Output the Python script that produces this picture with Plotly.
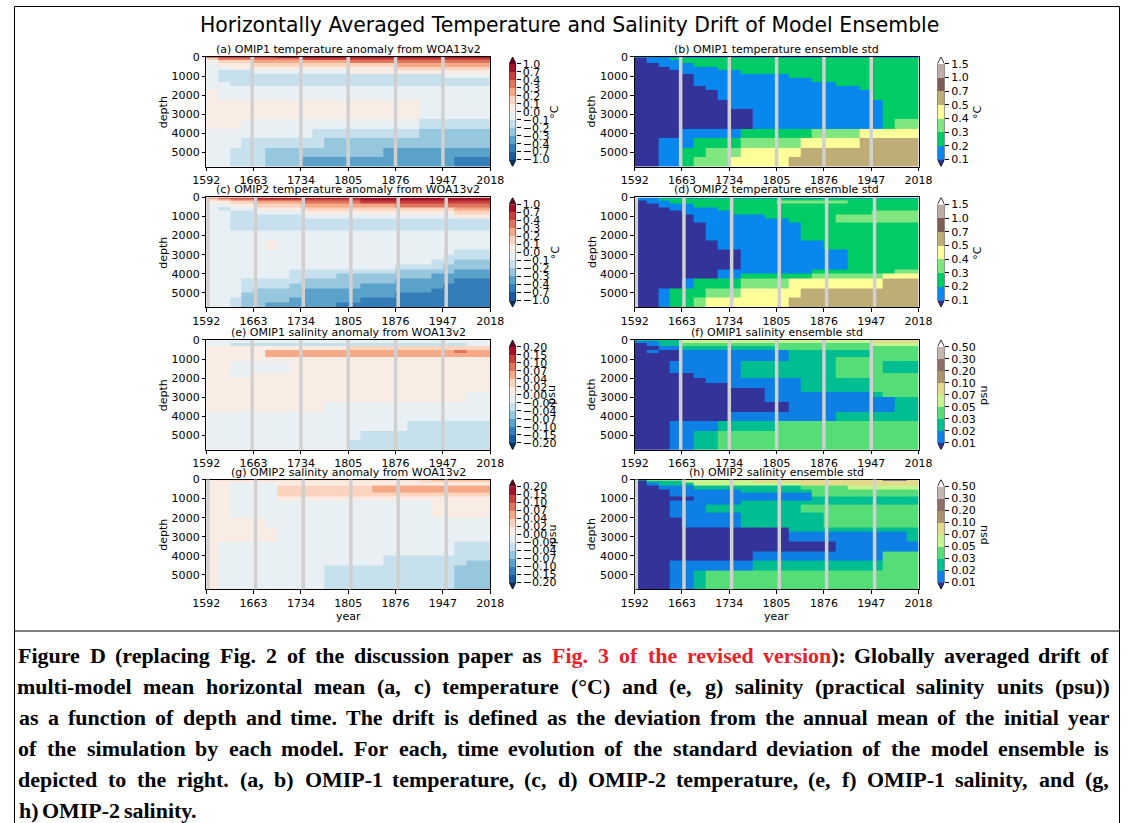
import plotly.graph_objects as go

W, H = 1134, 823
# the photographed page comes out slightly shrunk; map reference pixels onto figure pixels
SX, AX = 0.979, 13.0
SY, AY = 0.996, 4.9

# ---------------- data grids (depth rows x time columns) ----------------
YEAR_EDGES = [1592, 1609.75, 1627.5, 1645.25, 1663, 1680.75, 1698.5, 1716.25, 1734,
              1751.75, 1769.5, 1787.25, 1805, 1822.75, 1840.5, 1858.25, 1876,
              1893.75, 1911.5, 1929.25, 1947, 1964.75, 1982.5, 2000.25, 2018]
DEPTH_EDGES = [0, 50, 150, 300, 500, 700, 900, 1100, 1300, 1500, 1750, 2000, 2250,
               2500, 2750, 3000, 3250, 3500, 3750, 4000, 4250, 4500, 4750, 5000,
               5250, 5500, 5750]
X_TICKS = [1592, 1663, 1734, 1805, 1876, 1947, 2018]
Y_TICKS = [0, 1000, 2000, 3000, 4000, 5000]
OMIP1_CYCLE_YEARS = [1661, 1734, 1805, 1876, 1947]
OMIP2_CYCLE_YEARS = [1594.5, 1666, 1737.5, 1809, 1880, 1952]

TEMP_ANOM_LEVELS = [-1.0, -0.7, -0.4, -0.3, -0.2, -0.1, 0.0, 0.1, 0.2, 0.3, 0.4, 0.7, 1.0]
TEMP_STD_LEVELS = [0.1, 0.2, 0.3, 0.4, 0.5, 0.7, 1.0, 1.5]
SAL_ANOM_LEVELS = [-0.20, -0.15, -0.10, -0.07, -0.04, -0.02, 0.00, 0.02, 0.04, 0.07, 0.10, 0.15, 0.20]
SAL_STD_LEVELS = [0.01, 0.02, 0.03, 0.05, 0.07, 0.10, 0.20, 0.30, 0.50]

# class index per cell (hex digit): 0 = below lowest level, 1.. = level intervals
A_OMIP1_TEMP_ANOM = [
    "abbb bbcc cccc cccc cccc cccc",
    "8aaa aaaa bbbb bbbb bbbb bbbb",
    "7888 9999 9999 aaaa aaaa aaaa",
    "6777 8888 8888 8888 9999 9999",
    "6677 7777 7777 7777 8888 8888",
    "6555 6666 6666 7777 7777 7777",
    "6555 5555 5555 5555 5555 6666",
    "6555 5555 5555 5555 5555 5555",
    "6655 5555 5555 5555 5555 5555",
    "6666 6666 6666 6666 6666 6666",
    "7666 6666 6666 6666 6666 6666",
    "7666 6666 6666 6666 6666 6666",
    "7777 7777 7777 7777 7766 6666",
    "7777 7777 7777 7777 7766 6666",
    "7777 7777 7777 7777 7766 6666",
    "7777 7777 7777 7777 7766 6666",
    "7776 6666 6666 6666 6655 5555",
    "7776 6666 6666 6666 6655 5555",
    "6666 6666 6555 5555 5544 4444",
    "6666 6666 6555 5555 5544 4444",
    "6665 5555 5544 4444 4444 4444",
    "6665 5555 5544 4444 4444 4444",
    "6655 5444 4444 4443 3333 3333",
    "6655 5444 4444 4443 3333 3333",
    "6655 5444 3333 3333 3333 3222",
    "6655 5444 3333 3333 3333 3222",
]
B_OMIP1_TEMP_STD = [
    "1111 1111 1111 1111 1111 1111",
    "0112 2222 2222 2222 2222 2222",
    "0111 2222 2222 2222 2222 2222",
    "0011 1222 2222 2222 2222 2222",
    "0001 1112 2222 2222 2222 2222",
    "0000 1111 1222 2222 2222 2222",
    "0000 0111 1111 1222 2222 2222",
    "0000 0111 1111 1112 2222 2222",
    "0000 0111 1111 1111 1222 2222",
    "0000 0011 1111 1111 1112 2222",
    "0000 0001 1111 1111 1111 2222",
    "0000 0001 1111 1111 1111 2222",
    "0000 0000 1111 1111 1111 1222",
    "0000 0000 1111 1111 1111 1222",
    "0000 0000 0011 1111 1111 1222",
    "0000 0000 0011 1111 1111 1222",
    "0000 0000 0011 1111 1111 1233",
    "0000 0000 0011 1111 1111 1233",
    "0000 1111 1222 2223 3334 4444",
    "0000 1111 1222 2223 3334 4444",
    "0011 1222 2333 3344 4445 5555",
    "0011 1222 2333 3344 4445 5555",
    "0011 2233 3444 4455 5555 5555",
    "0011 2233 3444 4455 5555 5555",
    "0011 2333 4444 4555 5555 5555",
    "0011 2333 4444 4555 5555 5555",
]
C_OMIP2_TEMP_ANOM = [
    "abbb cccc cccc cccc cccc cccc",
    "89aa bbbb bbbb bccc cccc cccc",
    "7788 9999 aaaa abbb bbbb bbbb",
    "6677 8888 9999 9999 aaaa aaaa",
    "6566 7777 8888 8888 8888 8999",
    "6655 6666 7777 7777 7777 7888",
    "6655 5555 6666 6666 6666 6777",
    "6655 5555 5555 5555 5555 5555",
    "6655 5555 5555 5555 5555 5555",
    "6655 5555 5555 5555 5555 5555",
    "6666 6666 6666 6666 6666 6666",
    "6666 6666 6666 6666 6666 6666",
    "6666 6766 6666 6666 6666 6666",
    "6666 6766 6666 6666 6666 6666",
    "6666 6666 6666 6666 6666 6555",
    "6666 6666 6666 6666 6666 5555",
    "6666 6666 6666 6666 6665 5444",
    "6666 6666 6666 6666 5555 4444",
    "6666 6665 5555 5555 4444 4333",
    "6666 6665 5554 4444 4443 3333",
    "6665 5555 4444 4444 3333 3222",
    "6665 5554 4444 4333 3333 2222",
    "6665 4444 3333 3333 3332 2222",
    "6664 4444 3333 3333 2222 2222",
    "6654 4443 3333 3222 2222 2222",
    "6654 4333 3332 2222 2222 2222",
]
D_OMIP2_TEMP_STD = [
    "1111 1111 1111 1111 1111 1111",
    "1122 2222 2222 2222 2222 2222",
    "0112 2222 2222 3333 3322 2222",
    "0011 1222 2222 2222 2222 2222",
    "0001 1112 2222 2222 2222 2222",
    "0000 1111 2222 2222 2222 3333",
    "0000 0111 1112 2222 2333 3333",
    "0000 0111 1111 1222 2333 3333",
    "0000 0011 1111 1122 2222 2222",
    "0000 0011 1111 1122 2222 2222",
    "0000 0011 1111 1122 2222 2222",
    "0000 0011 1111 1122 2222 2222",
    "0000 0001 1111 1111 2222 2222",
    "0000 0001 1111 1111 2222 2222",
    "0000 0000 0111 1111 1122 2222",
    "0000 0000 0111 1111 1122 2222",
    "0000 0000 0111 1111 1122 2222",
    "0000 0000 0111 1111 1122 2222",
    "0000 0001 1111 1112 2222 2233",
    "0000 0001 1222 2223 3333 3444",
    "0000 1222 2333 3444 4444 4555",
    "0000 1222 2333 3444 4444 4555",
    "0012 2233 3444 4455 5555 5555",
    "0012 2233 3444 4455 5555 5555",
    "0012 2344 4444 4555 5555 5555",
    "0012 2344 4444 4555 5555 5555",
]
E_OMIP1_SAL_ANOM = [
    "6666 6666 6666 6666 6666 6666",
    "6666 6666 6666 6666 6666 6666",
    "6655 5555 5555 5555 5555 5566",
    "7777 7777 7777 8888 8888 8888",
    "7777 7999 9999 9999 9999 9a99",
    "7777 7999 9999 9999 9999 9999",
    "7777 7777 7777 7777 7777 7777",
    "7766 6667 7777 7777 7777 7777",
    "7766 6667 7777 7777 7777 7777",
    "7766 6667 7777 7777 7777 7777",
    "7766 7777 7777 7777 7777 7777",
    "7777 7777 7777 7777 7777 7777",
    "7777 7777 7777 7777 7777 7777",
    "7777 7777 7777 7777 7777 7777",
    "7777 7777 7777 7777 7777 7766",
    "7777 7777 7777 7777 7777 7766",
    "7777 7777 7766 6666 6666 6666",
    "7777 7777 7766 6666 6666 6666",
    "6666 6666 6666 6666 6666 6666",
    "6666 6666 6666 6666 6666 6666",
    "6666 6666 6666 6666 6555 5555",
    "6666 6666 6666 6666 6555 5555",
    "6666 6666 6666 6555 5555 5555",
    "6666 6666 6666 6555 5555 5555",
    "6666 6666 6666 5555 5555 5555",
    "6666 6666 6666 5555 5555 5555",
]
F_OMIP1_SAL_STD = [
    "2222 4444 4444 4444 4444 5555",
    "1122 4444 4444 4444 4444 5555",
    "0122 3333 3333 3333 3333 4444",
    "0011 2222 2222 3333 3333 3333",
    "0100 1111 1111 1222 2222 3333",
    "0000 1111 1111 1222 2222 3333",
    "0000 1111 1111 1222 2333 3333",
    "0001 1111 1222 2222 2333 3222",
    "0001 1111 1222 2222 2333 3222",
    "0001 1111 1222 2222 2333 3222",
    "0000 0111 1222 2222 2333 3333",
    "0000 0011 1111 1122 2222 3333",
    "0000 0000 1111 1122 2222 3333",
    "0000 0000 0001 1122 2222 3333",
    "0000 0000 0001 1111 1111 2333",
    "0000 0000 0001 1111 1111 1122",
    "0000 0000 0000 0111 1111 1122",
    "0000 0000 0000 0111 1111 1122",
    "0000 0000 1111 1111 1222 2222",
    "0000 0000 1111 1111 1222 2222",
    "0001 1112 2222 3333 3333 3333",
    "0001 1112 2222 3333 3333 3333",
    "0001 1223 3333 3333 3333 3333",
    "0001 1223 3333 3333 3333 3333",
    "0001 1223 3333 3333 3333 3333",
    "0001 1223 3333 3333 3333 3333",
]
G_OMIP2_SAL_ANOM = [
    "7888 8888 8888 8888 8889 9999",
    "7777 7777 7777 7777 7788 8888",
    "7766 6677 7777 7777 7777 7777",
    "7766 6688 8888 8899 9999 9999",
    "7766 6688 8888 8899 9999 9999",
    "7766 6688 8888 8888 8888 8888",
    "7766 6677 7777 7777 7777 7777",
    "7766 6666 6666 6666 6667 7777",
    "7766 6666 6666 6666 6667 7777",
    "7766 6666 6666 6666 6667 7777",
    "7766 6666 6666 6666 6667 7777",
    "7777 7666 6666 6666 6666 6666",
    "7777 7666 6666 6666 6666 6666",
    "7777 7766 6666 6666 6666 6666",
    "7777 7766 6666 6666 6666 6666",
    "7777 7766 6666 6666 6666 6666",
    "7666 6666 6666 6666 6666 6555",
    "7666 6666 6666 6666 6666 6555",
    "7666 6666 6666 6666 6666 6555",
    "7666 6666 6666 6665 5555 5555",
    "7666 6666 6666 6665 5555 5544",
    "7666 6666 6655 5555 5555 5444",
    "7666 6666 6655 5555 5555 5444",
    "7666 6666 6655 5555 5555 5444",
    "7666 6666 6655 5555 5555 5444",
    "7666 6666 6655 5555 5555 5444",
]
H_OMIP2_SAL_STD = [
    "2444 4444 5555 5555 5555 5005",
    "0222 4444 4455 5555 5555 5555",
    "0122 2444 4444 4455 5555 5555",
    "0011 1222 2222 2233 3344 4444",
    "0001 1111 1222 2223 3333 3333",
    "0001 1111 1111 1113 3333 3333",
    "0000 0111 1111 1112 2222 2222",
    "0001 1111 1222 2222 2222 2222",
    "0001 1122 2222 2233 3333 3333",
    "0001 1122 2222 2233 3333 3333",
    "0001 1111 1222 2222 3333 3333",
    "0000 1111 1222 2222 3333 3333",
    "0000 1111 1222 2222 3333 3333",
    "0000 0000 0000 0222 2222 2222",
    "0000 0000 0000 0111 1111 1112",
    "0000 0000 0000 0111 1111 1112",
    "0000 0000 0000 0000 0111 1111",
    "0000 0000 0000 0000 0111 1111",
    "0000 0000 0011 1111 1111 1333",
    "0000 0000 0011 1111 1111 1333",
    "0001 1111 1122 2222 2222 2333",
    "0001 1111 1122 2222 2222 2333",
    "0001 1233 3333 3333 3333 3333",
    "0001 1233 3333 3333 3333 3333",
    "0001 1233 3333 3333 3333 3333",
    "0001 1233 3333 3333 3333 3333",
]

CAPTION_LINES = [
    "Figure D (replacing Fig. 2 of the discussion paper as Fig. 3 of the revised version): Globally averaged drift of",
    "multi-model mean horizontal mean (a, c) temperature (°C) and (e, g) salinity (practical salinity units (psu))",
    "as a function of depth and time. The drift is defined as the deviation from the annual mean of the initial year",
    "of the simulation by each model. For each, time evolution of the standard deviation of the model ensemble is",
    "depicted to the right. (a, b) OMIP-1 temperature, (c, d) OMIP-2 temperature, (e, f) OMIP-1 salinity, and (g,",
    "h) OMIP-2 salinity.",
]

# ---------------- colour maps (matplotlib RdBu_r / terrain) ----------------
RDBU_R = ['#053061', '#2166ac', '#4393c3', '#92c5de', '#d1e5f0', '#f7f7f7',
          '#fddbc7', '#f4a582', '#d6604d', '#b2182b', '#67001f']
RDBU_ANCH = [(i / 10, tuple(int(c[k:k + 2], 16) / 255 for k in (1, 3, 5))) for i, c in enumerate(RDBU_R)]
TERRAIN_ANCH = [(0.0, (0.2, 0.2, 0.6)), (0.15, (0.0, 0.6, 1.0)), (0.25, (0.0, 0.8, 0.4)),
                (0.5, (1.0, 1.0, 0.6)), (0.75, (0.5, 0.36, 0.33)), (1.0, (1.0, 1.0, 1.0))]


def sample(anch, t):
    for (t0, c0), (t1, c1) in zip(anch[:-1], anch[1:]):
        if t0 <= t <= t1:
            u = 0 if t1 == t0 else (t - t0) / (t1 - t0)
            rgb = [round(255 * (a + (b - a) * u)) for a, b in zip(c0, c1)]
            return 'rgb(%d,%d,%d)' % tuple(rgb)
    return 'rgb(255,255,255)'


def class_colors(anch, levels):
    m = len(levels) - 1
    return [sample(anch, i / (m + 1)) for i in range(m + 2)]


def discrete_scale(cols):
    n = len(cols)
    cs = []
    for i, c in enumerate(cols):
        cs.append([i / n, c])
        cs.append([(i + 1) / n, c])
    return cs


def parse(rows):
    out = []
    for r in rows:
        s = r.replace(' ', '')
        s = (s + s[-1] * 24)[:24]
        out.append([int(ch, 16) for ch in s])
    return out


def fmt(v, nd):
    return f"{v:.{nd}f}".replace('-', '\u2212')


KINDS = {
    'tanom': dict(levels=TEMP_ANOM_LEVELS, anch=RDBU_ANCH, nd=1, unit='°C'),
    'tstd': dict(levels=TEMP_STD_LEVELS, anch=TERRAIN_ANCH, nd=1, unit='°C'),
    'sanom': dict(levels=SAL_ANOM_LEVELS, anch=RDBU_ANCH, nd=2, unit='psu'),
    'sstd': dict(levels=SAL_STD_LEVELS, anch=TERRAIN_ANCH, nd=2, unit='psu'),
}

PANELS = [
    ('(a) OMIP1 temperature anomaly from WOA13v2', A_OMIP1_TEMP_ANOM, 'tanom', 0, 0, OMIP1_CYCLE_YEARS),
    ('(b) OMIP1 temperature ensemble std', B_OMIP1_TEMP_STD, 'tstd', 1, 0, OMIP1_CYCLE_YEARS),
    ('(c) OMIP2 temperature anomaly from WOA13v2', C_OMIP2_TEMP_ANOM, 'tanom', 0, 1, OMIP2_CYCLE_YEARS),
    ('(d) OMIP2 temperature ensemble std', D_OMIP2_TEMP_STD, 'tstd', 1, 1, OMIP2_CYCLE_YEARS),
    ('(e) OMIP1 salinity anomaly from WOA13v2', E_OMIP1_SAL_ANOM, 'sanom', 0, 2, OMIP1_CYCLE_YEARS),
    ('(f) OMIP1 salinity ensemble std', F_OMIP1_SAL_STD, 'sstd', 1, 2, OMIP1_CYCLE_YEARS),
    ('(g) OMIP2 salinity anomaly from WOA13v2', G_OMIP2_SAL_ANOM, 'sanom', 0, 3, OMIP2_CYCLE_YEARS),
    ('(h) OMIP2 salinity ensemble std', H_OMIP2_SAL_STD, 'sstd', 1, 3, OMIP2_CYCLE_YEARS),
]

# ---------------- geometry (reference pixels) ----------------
COL_X = [(206, 491), (636, 921)]
ROW_Y = [56, 197, 340, 480]
PH = 110
CB_X = [510, 940]
CB_W = 7
TRI = 7
UNIT_X = {('°C', 0): 556, ('psu', 0): 553, ('°C', 1): 980, ('psu', 1): 986}
FONT = 'DejaVu Sans'
FS = 10.8 / SX


def fx(px):
    return min(1.0, max(0.0, (px - AX) / SX / W))


def fy(py):
    return min(1.0, max(0.0, 1 - (py - AY) / SY / H))


def nm(n):
    return '' if n == 1 else str(n)


# Times-Bold advance widths (1/1000 em) used to justify the caption lines
TB = {' ': 250, '(': 333, ')': 333, ',': 250, '-': 333, '.': 250, ':': 333, '°': 400,
      '0': 500, '1': 500, '2': 500, '3': 500, '4': 500, '5': 500, '6': 500, '7': 500, '8': 500, '9': 500,
      'A': 722, 'B': 667, 'C': 722, 'D': 722, 'E': 667, 'F': 611, 'G': 778, 'H': 778, 'I': 389,
      'J': 500, 'K': 778, 'L': 667, 'M': 944, 'N': 722, 'O': 778, 'P': 611, 'Q': 778, 'R': 722,
      'S': 556, 'T': 667, 'U': 722, 'V': 722, 'W': 1000, 'X': 722, 'Y': 722, 'Z': 667,
      'a': 500, 'b': 556, 'c': 444, 'd': 556, 'e': 444, 'f': 333, 'g': 500, 'h': 556, 'i': 278,
      'j': 333, 'k': 556, 'l': 278, 'm': 833, 'n': 556, 'o': 500, 'p': 556, 'q': 556, 'r': 444,
      's': 389, 't': 333, 'u': 556, 'v': 500, 'w': 722, 'x': 500, 'y': 500, 'z': 444}


def tw(s, size):
    return sum(TB.get(ch, 500) for ch in s) / 1000 * size


fig = go.Figure()
layout = dict(width=W, height=H, margin=dict(l=0, r=0, t=0, b=0),
              paper_bgcolor='white', plot_bgcolor='white', showlegend=False,
              font=dict(family=FONT, size=FS, color='black'))
annotations = []
shapes = []

axis_common = dict(showgrid=False, zeroline=False, showline=True, mirror=True,
                   linecolor='black', linewidth=0.8, ticks='outside', ticklen=3.5,
                   tickwidth=0.8, tickcolor='black', tickfont=dict(size=FS, family=FONT, color='black'))

for i, (title, grid, kind, col, row, cyc) in enumerate(PANELS):
    k = KINDS[kind]
    cols = class_colors(k['anch'], k['levels'])
    cs = discrete_scale(cols)
    ncls = len(cols)
    m = len(k['levels']) - 1
    x0, x1 = COL_X[col]
    y0 = ROW_Y[row]
    y1 = y0 + PH

    n = i + 1
    fig.add_trace(go.Heatmap(x=YEAR_EDGES, y=DEPTH_EDGES, z=parse(grid), colorscale=cs,
                             zmin=-0.5, zmax=ncls - 0.5, showscale=False, hoverinfo='skip',
                             xaxis='x' + nm(n), yaxis='y' + nm(n)))
    layout['xaxis' + nm(n)] = dict(axis_common, domain=[fx(x0), fx(x1)], anchor='y' + nm(n),
                                   range=[1592, 2018], tickvals=X_TICKS,
                                   ticktext=[str(t) for t in X_TICKS])
    layout['yaxis' + nm(n)] = dict(axis_common, domain=[fy(y1), fy(y0)], anchor='x' + nm(n),
                                   range=[5750, 0], tickvals=Y_TICKS,
                                   ticktext=[str(t) for t in Y_TICKS])
    for yr in cyc:
        shapes.append(dict(type='line', xref='x' + nm(n), yref='y' + nm(n) + ' domain',
                           x0=yr, x1=yr, y0=0, y1=1, line=dict(color='#d0d0d0', width=3.5),
                           layer='above'))

    # colour bar drawn in its own small axis
    cn = n + 8
    t = TRI * m / (PH - 2 * TRI)
    cbx = CB_X[col]
    fig.add_trace(go.Heatmap(x=[0, 1], y=list(range(m + 1)), z=[[j + 1] for j in range(m)],
                             colorscale=cs, zmin=-0.5, zmax=ncls - 0.5, showscale=False,
                             hoverinfo='skip', xaxis='x' + nm(cn), yaxis='y' + nm(cn)))
    fig.add_trace(go.Scatter(x=[0, 1, 0.5, 0], y=[0, 0, -t, 0], fill='toself', fillcolor=cols[0],
                             mode='lines', line=dict(width=0, color=cols[0]), hoverinfo='skip',
                             xaxis='x' + nm(cn), yaxis='y' + nm(cn)))
    fig.add_trace(go.Scatter(x=[0, 1, 0.5, 0], y=[m, m, m + t, m], fill='toself', fillcolor=cols[-1],
                             mode='lines', line=dict(width=0, color=cols[-1]), hoverinfo='skip',
                             xaxis='x' + nm(cn), yaxis='y' + nm(cn)))
    fig.add_trace(go.Scatter(x=[0.5, 1, 1, 0.5, 0, 0, 0.5], y=[-t, 0, m, m + t, m, 0, -t],
                             mode='lines', line=dict(width=0.8, color='black'), hoverinfo='skip',
                             xaxis='x' + nm(cn), yaxis='y' + nm(cn)))
    layout['xaxis' + nm(cn)] = dict(domain=[fx(cbx), fx(cbx + CB_W)], anchor='y' + nm(cn),
                                    range=[0, 1], visible=False, fixedrange=True)
    layout['yaxis' + nm(cn)] = dict(domain=[fy(y1), fy(y0)], anchor='x' + nm(cn), side='right',
                                    range=[-t, m + t], tickvals=list(range(m + 1)),
                                    ticktext=[fmt(v, k['nd']) for v in k['levels']],
                                    showgrid=False, zeroline=False, showline=False,
                                    ticks='outside', ticklen=3.5, tickwidth=0.8, tickcolor='black',
                                    tickfont=dict(size=FS, family=FONT, color='black'))

    annotations.append(dict(text=title, x=fx((x0 + x1) / 2), y=fy(y0 - 7.5), xref='paper', yref='paper',
                            xanchor='center', yanchor='middle', showarrow=False,
                            font=dict(size=FS, family=FONT, color='black')))
    annotations.append(dict(text='depth', x=fx(x0 - 43), y=fy((y0 + y1) / 2), xref='paper', yref='paper',
                            xanchor='center', yanchor='middle', textangle=-90, showarrow=False,
                            font=dict(size=FS, family=FONT, color='black')))
    annotations.append(dict(text=k['unit'], x=fx(UNIT_X[(k['unit'], col)]), y=fy((y0 + y1) / 2),
                            xref='paper', yref='paper', xanchor='center', yanchor='middle',
                            textangle=-90, showarrow=False,
                            font=dict(size=FS, family=FONT, color='black')))
    if row == 3:
        annotations.append(dict(text='year', x=fx((x0 + x1) / 2), y=fy(617), xref='paper', yref='paper',
                                xanchor='center', yanchor='middle', showarrow=False,
                                font=dict(size=FS, family=FONT, color='black')))

annotations.append(dict(text='Horizontally Averaged Temperature and Salinity Drift of Model Ensemble',
                        x=fx(571), y=fy(24), xref='paper', yref='paper', xanchor='center',
                        yanchor='middle', showarrow=False,
                        font=dict(size=20 / SX, family=FONT, color='black')))

# caption, justified between x=18 and x=1112 (word centres placed along the line)
CAP_FS = 21.5
CAP_L, CAP_R = 18, 1112
CAP_Y = [657, 688, 719, 750, 781, 812]
RED = '#e8202a'
for li, (line, yc) in enumerate(zip(CAPTION_LINES, CAP_Y)):
    words = line.split(' ')
    widths = [tw(w, CAP_FS) for w in words]
    last = li == len(CAPTION_LINES) - 1
    gap = tw(' ', CAP_FS) if last else (CAP_R - CAP_L - sum(widths)) / (len(words) - 1)
    xpos = CAP_L
    red_on = False
    for wi, (w, wd) in enumerate(zip(words, widths)):
        txt = w
        if li == 0:
            if w == 'Fig.' and words[wi + 1] == '3':
                red_on = True
            if red_on:
                if w.startswith('version'):
                    txt = "<span style='color:%s'>version</span>%s" % (RED, w[len('version'):])
                    red_on = False
                else:
                    txt = "<span style='color:%s'>%s</span>" % (RED, w)
        annotations.append(dict(text='<b>' + txt + '</b>', x=fx(xpos + wd / 2), y=fy(yc), xref='paper',
                                yref='paper', xanchor='center', yanchor='middle', showarrow=False,
                                borderpad=0,
                                font=dict(size=CAP_FS / SX, family='Liberation Serif', color='black')))
        xpos += wd + gap

# table borders
shapes.append(dict(type='rect', xref='paper', yref='paper', x0=0.5 / W, x1=1 - 0.5 / W, y0=-0.01,
                   y1=1 - 0.5 / H, line=dict(color='black', width=1)))
shapes.append(dict(type='line', xref='paper', yref='paper', x0=0.5 / W, x1=1 - 0.5 / W, y0=fy(632),
                   y1=fy(632), line=dict(color='black', width=1)))

layout['annotations'] = annotations
layout['shapes'] = shapes
fig.update_layout(**layout)
fig.write_html('out.html')
